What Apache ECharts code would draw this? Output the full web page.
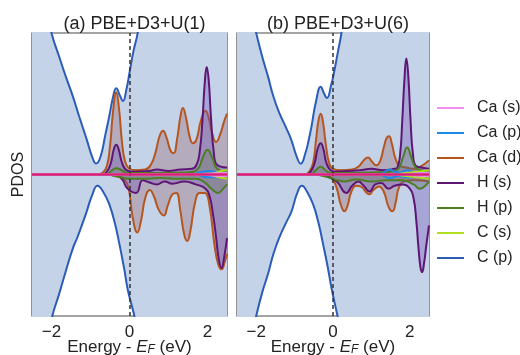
<!DOCTYPE html>
<html>
<head>
<meta charset="utf-8">
<script src="https://cdn.jsdelivr.net/npm/echarts@6/dist/echarts.min.js"></script>
<style>
  html, body { margin: 0; padding: 0; background: #fff; }
  #chart { width: 520px; height: 355px; }
</style>
</head>
<body>
<div id="chart"></div>
<script>
// energy axis (eV relative to E_F) and tick labels
const energyRange = [-2.5, 2.5];
const energyTicks = [-2, 0, 2];
const panelTitles = ["(a) PBE+D3+U(1)", "(b) PBE+D3+U(6)"];
const orbitals = ["Ca (s)", "Ca (p)", "Ca (d)", "H (s)", "H (p)", "C (s)", "C (p)"];

// ---- panel (a) U = 1 : [energy, pdos] pairs, up (+) and down (-) spin
const cP_up_a = [[-2.5,1.7],[-2.25,1.3],[-2.0,1.0],[-1.8,0.83],[-1.63,0.69],[-1.45,0.55],[-1.29,0.41],[-1.1,0.25],[-0.95,0.12],[-0.86,0.078],[-0.75,0.12],[-0.62,0.28],[-0.52,0.41],[-0.42,0.55],[-0.34,0.61],[-0.25,0.56],[-0.17,0.52],[-0.08,0.6],[0,0.72],[0.1,0.87],[0.21,1.0],[0.35,1.25],[0.6,1.6],[1.0,2],[2.5,2]];
const cP_dn_a = [[-2.5,-1.7],[-2.2,-1.25],[-1.98,-1.0],[-1.8,-0.84],[-1.63,-0.68],[-1.45,-0.52],[-1.33,-0.44],[-1.12,-0.28],[-0.95,-0.14],[-0.82,-0.08],[-0.68,-0.12],[-0.52,-0.21],[-0.38,-0.34],[-0.26,-0.49],[-0.14,-0.66],[-0.04,-0.82],[0.09,-0.96],[0.2,-1.1],[0.4,-1.4],[0.8,-2],[2.5,-2]];
const caD_up_a = [[-2.5,0],[-0.8,0],[-0.68,0.015],[-0.58,0.06],[-0.5,0.2],[-0.42,0.45],[-0.34,0.58],[-0.27,0.47],[-0.2,0.25],[-0.12,0.1],[-0.02,0.045],[0.15,0.03],[0.4,0.035],[0.55,0.07],[0.67,0.16],[0.77,0.27],[0.86,0.31],[0.95,0.26],[1.05,0.17],[1.13,0.15],[1.22,0.25],[1.3,0.4],[1.37,0.47],[1.45,0.4],[1.55,0.26],[1.63,0.22],[1.72,0.25],[1.83,0.38],[1.95,0.45],[2.03,0.4],[2.13,0.28],[2.22,0.23],[2.32,0.28],[2.42,0.37],[2.5,0.43]];
const caD_dn_a = [[-2.5,0],[-0.6,0],[-0.3,-0.015],[-0.12,-0.04],[-0.02,-0.1],[0.08,-0.3],[0.2,-0.41],[0.3,-0.32],[0.4,-0.17],[0.52,-0.11],[0.62,-0.15],[0.75,-0.25],[0.88,-0.29],[0.98,-0.22],[1.1,-0.14],[1.2,-0.13],[1.3,-0.25],[1.4,-0.42],[1.48,-0.47],[1.56,-0.4],[1.68,-0.2],[1.8,-0.13],[1.93,-0.13],[2.05,-0.22],[2.18,-0.5],[2.28,-0.64],[2.36,-0.67],[2.44,-0.62],[2.5,-0.56]];
const hS_up_a = [[-2.5,0],[-0.7,0],[-0.58,0.02],[-0.48,0.08],[-0.4,0.18],[-0.34,0.21],[-0.28,0.18],[-0.2,0.09],[-0.1,0.035],[0.05,0.02],[0.5,0.025],[0.7,0.035],[1.0,0.025],[1.3,0.035],[1.6,0.04],[1.72,0.07],[1.8,0.16],[1.87,0.38],[1.93,0.65],[1.98,0.76],[2.03,0.67],[2.09,0.4],[2.16,0.16],[2.24,0.07],[2.5,0.05]];
const hS_dn_a = [[-2.5,0],[-0.4,0],[-0.2,-0.03],[-0.05,-0.1],[0.17,-0.13],[0.34,-0.04],[0.5,-0.055],[0.7,-0.07],[0.9,-0.05],[1.1,-0.065],[1.4,-0.05],[1.7,-0.07],[1.95,-0.1],[2.05,-0.15],[2.13,-0.26],[2.21,-0.42],[2.29,-0.6],[2.36,-0.66],[2.43,-0.58],[2.5,-0.45]];
const hP_up_a = [[-2.5,0],[-0.6,0],[-0.45,0.03],[-0.34,0.045],[-0.2,0.03],[-0.05,0.01],[0.5,0.01],[1.5,0.015],[1.75,0.04],[1.88,0.12],[2.0,0.175],[2.12,0.12],[2.25,0.04],[2.5,0.02]];
const hP_dn_a = [[-2.5,0],[-0.6,0],[-0.3,-0.015],[0,-0.03],[0.3,-0.03],[0.8,-0.025],[1.3,-0.03],[1.7,-0.03],[1.9,-0.05],[2.1,-0.1],[2.27,-0.13],[2.4,-0.1],[2.5,-0.07]];
const caP_up_a = [[-2.5,0],[1.6,0],[1.8,0.015],[2.0,0.025],[2.2,0.02],[2.35,0.01],[2.5,0.015]];
const caP_dn_a = [[-2.5,0],[1.7,0],[2.0,-0.02],[2.3,-0.02],[2.5,-0.01]];
const cS_up_a = [[-2.5,0],[2.0,0],[2.2,0.01],[2.35,0.025],[2.5,0.03]];
const cS_dn_a = [[-2.5,0],[2.0,0],[2.3,-0.02],[2.5,-0.03]];
const caS_up_a = [[-2.5,0],[1.8,0],[2.2,0.008],[2.5,0.01]];
const caS_dn_a = [[-2.5,0],[1.8,0],[2.2,-0.008],[2.5,-0.01]];

// ---- panel (b) U = 6
const cP_up_b = [[-2.5,1.7],[-2.25,1.3],[-2.0,1.0],[-1.85,0.84],[-1.69,0.69],[-1.55,0.55],[-1.39,0.43],[-1.22,0.33],[-1.08,0.24],[-0.95,0.13],[-0.84,0.076],[-0.72,0.15],[-0.62,0.26],[-0.56,0.34],[-0.44,0.52],[-0.32,0.62],[-0.23,0.57],[-0.16,0.54],[-0.05,0.63],[0.04,0.74],[0.13,0.87],[0.22,1.0],[0.35,1.25],[0.6,1.6],[1.0,2],[2.5,2]];
const cP_dn_b = [[-2.5,-1.7],[-2.2,-1.25],[-2.0,-1.0],[-1.85,-0.84],[-1.69,-0.7],[-1.55,-0.56],[-1.39,-0.44],[-1.22,-0.34],[-1.08,-0.26],[-0.93,-0.13],[-0.81,-0.08],[-0.68,-0.12],[-0.52,-0.21],[-0.38,-0.34],[-0.26,-0.49],[-0.14,-0.65],[-0.04,-0.8],[0.11,-0.99],[0.2,-1.1],[0.4,-1.4],[0.8,-2],[2.5,-2]];
const caD_up_b = [[-2.5,0],[-0.75,0],[-0.62,0.02],[-0.52,0.08],[-0.44,0.25],[-0.38,0.38],[-0.32,0.43],[-0.26,0.37],[-0.19,0.22],[-0.1,0.08],[0,0.04],[0.2,0.03],[0.5,0.035],[0.68,0.06],[0.8,0.1],[0.91,0.12],[1.02,0.09],[1.12,0.065],[1.22,0.09],[1.33,0.2],[1.4,0.26],[1.46,0.27],[1.53,0.22],[1.63,0.11],[1.74,0.06],[1.9,0.05],[2.1,0.04],[2.3,0.06],[2.5,0.1]];
const caD_dn_b = [[-2.5,0],[-0.5,0],[-0.2,-0.01],[-0.02,-0.03],[0.1,-0.1],[0.2,-0.21],[0.3,-0.26],[0.38,-0.22],[0.48,-0.12],[0.61,-0.08],[0.75,-0.09],[0.88,-0.13],[0.95,-0.14],[1.05,-0.11],[1.2,-0.085],[1.32,-0.12],[1.45,-0.23],[1.55,-0.26],[1.63,-0.2],[1.72,-0.09],[1.85,-0.05],[2.1,-0.04],[2.5,-0.05]];
const hS_up_b = [[-2.5,0],[-0.7,0],[-0.58,0.02],[-0.48,0.08],[-0.4,0.18],[-0.32,0.22],[-0.25,0.18],[-0.18,0.09],[-0.08,0.035],[0.05,0.02],[0.4,0.025],[0.7,0.03],[1.0,0.04],[1.3,0.03],[1.6,0.04],[1.68,0.05],[1.75,0.15],[1.8,0.36],[1.86,0.67],[1.91,0.82],[1.96,0.7],[2.02,0.38],[2.08,0.15],[2.16,0.06],[2.3,0.05],[2.5,0.04]];
const hS_dn_b = [[-2.5,0],[-0.3,0],[-0.1,-0.02],[0.1,-0.05],[0.35,-0.13],[0.5,-0.08],[0.66,-0.05],[0.8,-0.08],[0.95,-0.12],[1.1,-0.07],[1.25,-0.06],[1.45,-0.1],[1.6,-0.08],[1.8,-0.07],[2.0,-0.1],[2.1,-0.17],[2.17,-0.33],[2.23,-0.53],[2.28,-0.66],[2.32,-0.69],[2.37,-0.63],[2.43,-0.5],[2.47,-0.42],[2.5,-0.36]];
const hP_up_b = [[-2.5,0],[-0.6,0],[-0.45,0.03],[-0.32,0.055],[-0.2,0.03],[-0.05,0.01],[0.5,0.01],[1.0,0.015],[1.5,0.02],[1.7,0.04],[1.82,0.12],[1.93,0.19],[2.04,0.12],[2.15,0.05],[2.3,0.03],[2.5,0.02]];
const hP_dn_b = [[-2.5,0],[-0.5,0],[-0.2,-0.015],[0.1,-0.04],[0.3,-0.05],[0.6,-0.035],[1.0,-0.05],[1.4,-0.04],[1.8,-0.04],[2.1,-0.07],[2.26,-0.1],[2.4,-0.08],[2.5,-0.05]];
const caP_up_b = [[-2.5,0],[1.2,0],[1.35,0.02],[1.48,0.035],[1.6,0.02],[1.75,0.015],[1.93,0.03],[2.1,0.015],[2.3,0.01],[2.5,0.015]];
const caP_dn_b = [[-2.5,0],[1.2,0],[1.48,-0.025],[1.7,-0.01],[1.95,-0.02],[2.2,-0.015],[2.5,-0.01]];
const cS_up_b = [[-2.5,0],[1.5,0],[1.9,0.01],[2.2,0.02],[2.5,0.03]];
const cS_dn_b = [[-2.5,0],[1.5,0],[1.9,-0.01],[2.2,-0.02],[2.5,-0.03]];
const caS_up_b = [[-2.5,0],[1.8,0],[2.2,0.008],[2.5,0.01]];
const caS_dn_b = [[-2.5,0],[1.8,0],[2.2,-0.008],[2.5,-0.01]];

const colors = {
  "Ca (s)": "#f08ef0",
  "Ca (p)": "#1e88e5",
  "Ca (d)": "#b5561f",
  "H (s)": "#5e1675",
  "H (p)": "#4e7d23",
  "C (s)": "#aede1d",
  "C (p)": "#2a5cb8"
};
const fills = {
  "Ca (d)": "rgba(143,83,90,0.3)",
  "H (s)": "rgba(108,80,180,0.35)",
  "H (p)": "rgba(80,120,40,0.2)",
  "C (p)": "#c5d3e8"
};

const FONT = "'Liberation Sans', Arial, sans-serif";
const grids = [
  { left: 32, top: 33, width: 195, height: 283 },
  { left: 237, top: 33, width: 192, height: 283 }
];

const panels = [
  { "C (p)": [cP_up_a, cP_dn_a], "Ca (d)": [caD_up_a, caD_dn_a], "H (s)": [hS_up_a, hS_dn_a], "H (p)": [hP_up_a, hP_dn_a],
    "Ca (p)": [caP_up_a, caP_dn_a], "C (s)": [cS_up_a, cS_dn_a], "Ca (s)": [caS_up_a, caS_dn_a] },
  { "C (p)": [cP_up_b, cP_dn_b], "Ca (d)": [caD_up_b, caD_dn_b], "H (s)": [hS_up_b, hS_dn_b], "H (p)": [hP_up_b, hP_dn_b],
    "Ca (p)": [caP_up_b, caP_dn_b], "C (s)": [cS_up_b, cS_dn_b], "Ca (s)": [caS_up_b, caS_dn_b] }
];
// drawing order, back to front
const drawOrder = ["C (p)", "Ca (d)", "H (s)", "H (p)", "Ca (p)", "C (s)", "Ca (s)"];

const series = [];
panels.forEach((panel, p) => {
  drawOrder.forEach((name, k) => {
    panel[name].forEach((d) => {
      const s = {
        name: name,
        type: "line",
        xAxisIndex: p,
        yAxisIndex: p,
        data: d,
        smooth: 0.5,
        symbol: "none",
        clip: true,
        z: 2 + k,
        lineStyle: { color: colors[name], width: 2 },
        itemStyle: { color: colors[name] },
        emphasis: { disabled: true },
        animation: false
      };
      if (fills[name]) s.areaStyle = { color: fills[name], opacity: 1, origin: 0 };
      series.push(s);
    });
  });
  // Fermi level and zero line
  series.push({
    type: "line",
    xAxisIndex: p,
    yAxisIndex: p,
    data: [],
    z: 20,
    markLine: {
      silent: true,
      z: 30,
      symbol: "none",
      label: { show: false },
      animation: false,
      data: [
        { xAxis: 0, lineStyle: { color: "#333", type: [4, 3], width: 1.5 } },
        { yAxis: 0, lineStyle: { color: "#d8207a", type: "solid", width: 2.5 } }
      ]
    }
  });
});

const xName = "{t|Energy - }{i|E}{s|F}{t| (eV)}";

const option = {
  backgroundColor: "#fff",
  animation: false,
  textStyle: { fontFamily: FONT },
  title: panelTitles.map((t, i) => ({
    text: t,
    left: grids[i].left + grids[i].width / 2,
    top: 10,
    textAlign: "center",
    textStyle: { fontFamily: FONT, fontSize: 18, fontWeight: "normal", color: "#222" }
  })),
  legend: {
    orient: "vertical",
    left: 432,
    top: 95,
    icon: "rect",
    itemWidth: 27,
    itemHeight: 2,
    itemGap: 9,
    selectedMode: false,
    textStyle: { fontFamily: FONT, fontSize: 16, color: "#222", lineHeight: 16, padding: [0, 0, 0, 8] },
    data: orbitals.map((n) => ({ name: n, itemStyle: { color: colors[n] } }))
  },
  grid: grids.map((g) => ({
    left: g.left, top: g.top, width: g.width, height: g.height,
    outerBoundsMode: "none",
    containLabel: false,
    show: true, borderColor: "#4a4a4a", borderWidth: 1.2, backgroundColor: "#fff"
  })),
  xAxis: grids.map((g, i) => ({
    type: "value",
    gridIndex: i,
    min: energyRange[0],
    max: energyRange[1],
    axisLine: { show: false },
    splitLine: { show: false },
    axisTick: { show: true, inside: true, length: 4, customValues: energyTicks, lineStyle: { color: "#333" } },
    axisLabel: {
      customValues: energyTicks,
      margin: 8,
      fontSize: 17,
      color: "#222",
      fontFamily: FONT,
      formatter: (v) => (v < 0 ? "\u2212" + Math.abs(v) : String(v))
    },
    name: xName,
    nameLocation: "middle",
    nameGap: 22,
    nameMoveOverlap: false,
    nameTextStyle: {
      fontFamily: FONT,
      color: "#222",
      rich: {
        t: { fontSize: 17, fontFamily: FONT, color: "#222", lineHeight: 18 },
        i: { fontSize: 17, fontFamily: FONT, fontStyle: "italic", color: "#222", lineHeight: 18 },
        s: { fontSize: 12, fontFamily: FONT, fontStyle: "italic", color: "#222", verticalAlign: "bottom", lineHeight: 18 }
      }
    }
  })),
  yAxis: grids.map((g, i) => ({
    type: "value",
    gridIndex: i,
    min: -1,
    max: 1,
    axisLine: { show: false },
    axisTick: { show: false },
    axisLabel: { show: false },
    splitLine: { show: false },
    name: i === 0 ? "PDOS" : "",
    nameLocation: "middle",
    nameRotate: 90,
    nameGap: 5,
    nameTextStyle: { fontFamily: FONT, fontSize: 16, color: "#222" }
  })),
  series: series
};

const chart = echarts.init(document.getElementById("chart"), null, { renderer: "canvas" });
chart.setOption(option);
</script>
</body>
</html>
